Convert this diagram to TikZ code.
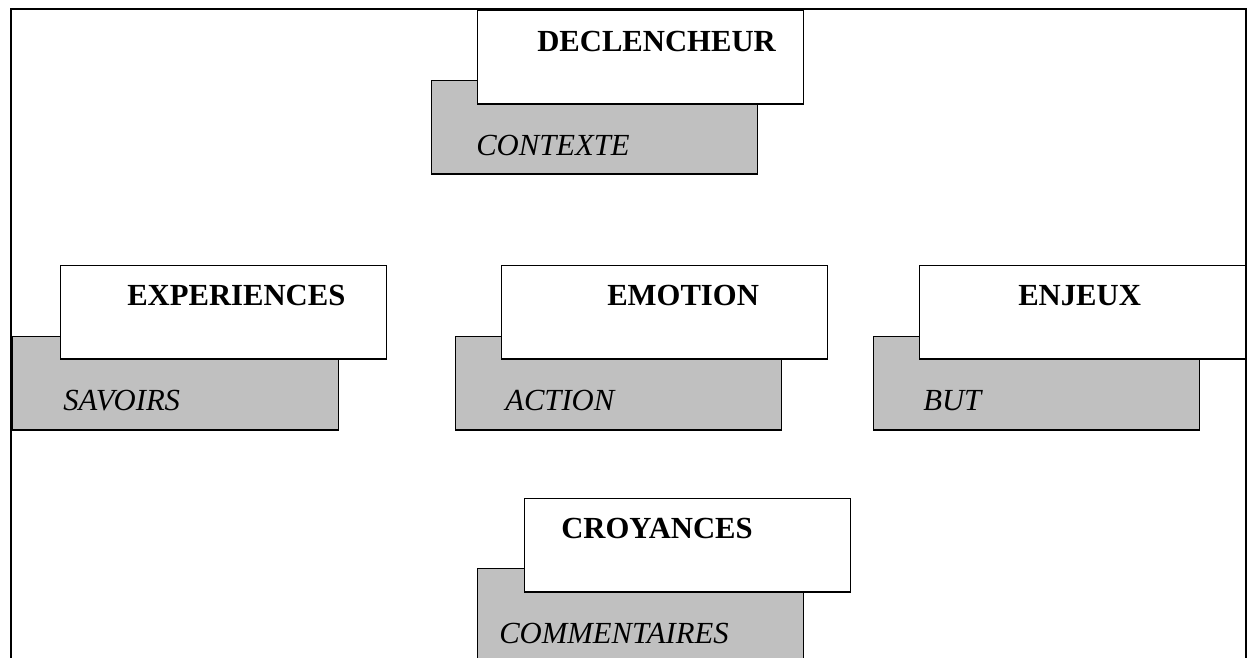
\documentclass[tikz,border=0pt]{standalone}
\usepackage{fontspec}
\setmainfont{Liberation Serif}
\begin{document}
\begin{tikzpicture}[x=0.75pt,y=-0.75pt,
  backbox/.style={draw=black,line width=1.1pt,fill=boxgray,anchor=north west,minimum width=244.5pt,minimum height=70pt,inner sep=0pt},
  frontbox/.style={draw=black,line width=1.1pt,fill=white,anchor=north west,minimum width=244.5pt,minimum height=70pt,inner sep=0pt},
  headtxt/.style={anchor=base west,inner sep=0pt,font=\fontsize{23}{26}\selectfont\bfseries},
  subtxt/.style={anchor=base west,inner sep=0pt,font=\fontsize{23}{26}\selectfont\itshape},
  frameline/.style={draw=black,line width=2pt}]
\definecolor{boxgray}{RGB}{192,192,192}
\useasboundingbox (0,0) rectangle (1249,657);
\clip (0,0) rectangle (1249,657);
\coordinate (fbl) at (11,660);
\coordinate (ftl) at (11,9);
\coordinate (ftr) at (1246,9);
\coordinate (fbr) at (1246,660);
\draw[frameline] (fbl) -- (ftl) -- (ftr) -- (fbr);
% DECLENCHEUR
\node[backbox] (contexteBox) at (431,80) {};
\node[frontbox] (declBox) at (477,10) {};
\node[headtxt] (declTxt) at (537,51) {DECLENCHEUR};
\node[subtxt] (contexteTxt) at (476,155) {CONTEXTE};
% EXPERIENCES
\node[backbox] (savoirsBox) at (12,336) {};
\node[frontbox] (expBox) at (60,265) {};
\node[headtxt] (expTxt) at (127,305) {EXPERIENCES};
\node[subtxt] (savoirsTxt) at (63,410) {SAVOIRS};
% EMOTION
\node[backbox] (actionBox) at (455,336) {};
\node[frontbox] (emoBox) at (501,265) {};
\node[headtxt] (emoTxt) at (607,305) {EMOTION};
\node[subtxt] (actionTxt) at (505,410) {ACTION};
% ENJEUX
\node[backbox] (butBox) at (873,336) {};
\node[frontbox] (enjBox) at (919,265) {};
\node[headtxt] (enjTxt) at (1018,305) {ENJEUX};
\node[subtxt] (butTxt) at (923,410) {BUT};
% CROYANCES
\node[backbox] (commBox) at (477,568) {};
\node[frontbox] (croyBox) at (524,498) {};
\node[headtxt] (croyTxt) at (561,538) {CROYANCES};
\node[subtxt] (commTxt) at (499,643) {COMMENTAIRES};
\end{tikzpicture}
\end{document}
